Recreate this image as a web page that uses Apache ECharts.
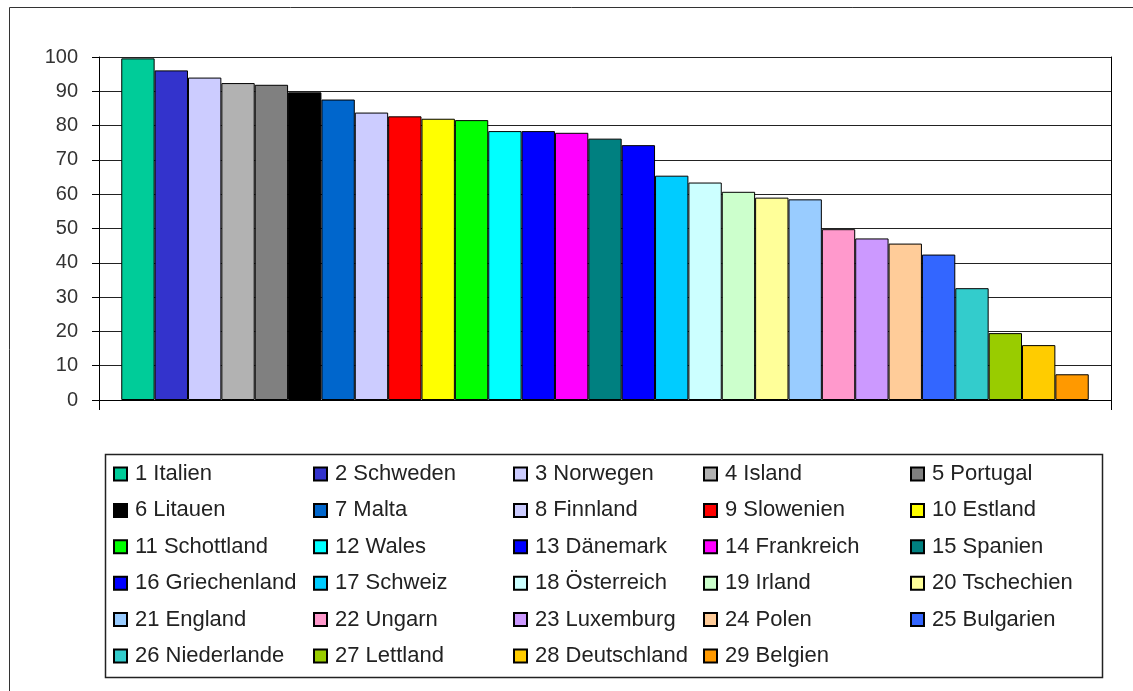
<!DOCTYPE html>
<html>
<head>
<meta charset="utf-8">
<script src="https://cdn.jsdelivr.net/npm/echarts@6/dist/echarts.min.js"></script>
<style>
  html, body { margin: 0; padding: 0; background: #fff; }
  #chart { width: 1133px; height: 691px; }
</style>
</head>
<body>
<div id="chart"></div>
<script>
// Länder (Legendentexte), Werte und Farben
var countries = ["1 Italien", "2 Schweden", "3 Norwegen", "4 Island", "5 Portugal",
    "6 Litauen", "7 Malta", "8 Finnland", "9 Slowenien", "10 Estland",
    "11 Schottland", "12 Wales", "13 Dänemark", "14 Frankreich", "15 Spanien",
    "16 Griechenland", "17 Schweiz", "18 Österreich", "19 Irland", "20 Tschechien",
    "21 England", "22 Ungarn", "23 Luxemburg", "24 Polen", "25 Bulgarien",
    "26 Niederlande", "27 Lettland", "28 Deutschland", "29 Belgien"];
var values = [99.6, 96.1, 94.0, 92.4, 91.9,
    89.7, 87.6, 83.8, 82.7, 82.0,
    81.6, 78.4, 78.4, 77.9, 76.2,
    74.3, 65.4, 63.4, 60.7, 59.0,
    58.5, 49.8, 47.1, 45.6, 42.4,
    32.6, 19.5, 16.0, 7.5];
var colors = ["#00CC99", "#3333CC", "#CCCCFF", "#B2B2B2", "#808080",
    "#000000", "#0066CC", "#CCCCFF", "#FF0000", "#FFFF00",
    "#00FF00", "#00FFFF", "#0000FF", "#FF00FF", "#008080",
    "#0000FF", "#00CCFF", "#CCFFFF", "#CCFFCC", "#FFFF99",
    "#99CCFF", "#FF99CC", "#CC99FF", "#FFCC99", "#3366FF",
    "#33CCCC", "#99CC00", "#FFCC00", "#FF9900"];
var yTicks = [0, 10, 20, 30, 40, 50, 60, 70, 80, 90, 100];

var chart = echarts.init(document.getElementById('chart'));

var series = [];
for (let i = 0; i < countries.length; i++) {
    series.push({
        name: countries[i],
        type: 'bar',
        data: [values[i]],
        barGap: '0%',
        barCategoryGap: '4.4%',
        itemStyle: { color: colors[i], borderColor: '#000', borderWidth: 1 },
        emphasis: { disabled: true }
    });
}

// 5 Spalten in der Legende
var legendX = [108, 308, 508, 698, 905];
var legends = [];
for (let c = 0; c < 5; c++) {
    let names = countries.filter(function (n, i) { return i % 5 === c; });
    legends.push({
        orient: 'vertical',
        left: legendX[c],
        top: 458,
        itemWidth: 13,
        itemHeight: 13,
        itemGap: 14.4,
        icon: 'rect',
        selectedMode: false,
        data: names,
        textStyle: { fontFamily: 'Liberation Sans, Arial', fontSize: 22, color: '#222', lineHeight: 22, padding: [0, 0, 0, 3] }
    });
}

var option = {
    animation: false,
    backgroundColor: '#fff',
    grid: { left: 99, right: 22, top: 57, bottom: 291 },
    legend: legends,
    xAxis: {
        type: 'category',
        data: [''],
        axisLine: { lineStyle: { color: '#000', width: 1 } },
        axisTick: { show: true, length: 10, lineStyle: { color: '#000' } },
        axisLabel: { show: false }
    },
    yAxis: [{
        type: 'value',
        min: yTicks[0],
        max: yTicks[yTicks.length - 1],
        interval: 10,
        axisLine: { show: true, lineStyle: { color: '#000', width: 1 } },
        axisTick: { show: true, length: 7, lineStyle: { color: '#000' } },
        axisLabel: { margin: 21, fontFamily: 'Liberation Sans, Arial', fontSize: 20, color: '#333' },
        splitLine: { show: true, lineStyle: { color: '#222', width: 1 } }
    }, {
        type: 'value',
        position: 'right',
        min: yTicks[0],
        max: yTicks[yTicks.length - 1],
        interval: 10,
        axisLine: { show: true, lineStyle: { color: '#000', width: 1 } },
        axisTick: { show: false },
        axisLabel: { show: false },
        splitLine: { show: false }
    }],
    graphic: [
        { type: 'rect', shape: { x: 9.5, y: 7.5, width: 1140, height: 700 },
          style: { fill: null, stroke: '#333', lineWidth: 1 }, silent: true, z: -1 },
        { type: 'rect', shape: { x: 105.5, y: 454.5, width: 997, height: 223 },
          style: { fill: null, stroke: '#222', lineWidth: 1.5 }, silent: true, z: -1 }
    ],
    series: series
};

chart.setOption(option);
</script>
</body>
</html>
